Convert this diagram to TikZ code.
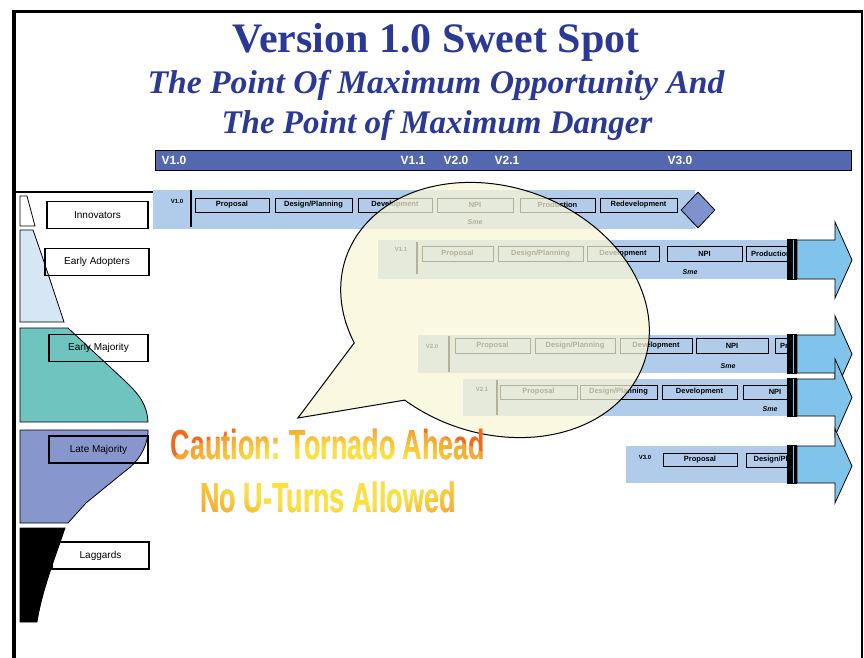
\documentclass[tikz,border=0pt]{standalone}
\usepackage{fontspec}
\usepackage{graphicx}
\setmainfont{Liberation Serif}
\setsansfont{Liberation Sans}
\usetikzlibrary{shapes.geometric}
\definecolor{titleblue}{RGB}{42,57,150}
\definecolor{tlblue}{RGB}{84,104,176}
\definecolor{barblue}{RGB}{176,204,234}
\definecolor{arrblue}{RGB}{128,196,236}
\definecolor{diamblue}{RGB}{128,146,206}
\definecolor{eadopt}{RGB}{214,230,245}
\definecolor{emaj}{RGB}{112,196,192}
\definecolor{lmaj}{RGB}{136,150,206}
\definecolor{bubble}{RGB}{250,246,214}
\definecolor{warnorange}{RGB}{238,108,32}
\definecolor{warnyellow}{RGB}{252,226,50}
\pgfdeclareradialshading{warnglow}{\pgfpoint{0bp}{0bp}}{%
  color(0bp)=(warnyellow); color(14bp)=(warnyellow); color(34bp)=(warnorange); color(50bp)=(warnorange)}
\newcommand\rowarrow[4]{%
  \fill[black] (787,{#1-1}) rectangle (797,{#2+1});
  \draw[arrblue, line width=0.9pt] (793.5,#1) -- (793.5,#2);
  \draw[arrowbody] (797,#1) -- (835,#1) -- (835,#3) -- (852,{(#3+#4)/2}) -- (835,#4) -- (835,#2) -- (797,#2) -- cycle;
}
\begin{document}
\begin{tikzpicture}[x=1pt,y=-1pt,
  pbox/.style={draw=black, line width=1pt, fill=barblue, inner sep=0pt, minimum height=14,
    font=\sffamily\bfseries\fontsize{7.5}{7.5}\selectfont},
  lbox/.style={draw=black, line width=1.2pt, inner sep=0pt, minimum height=27,
    font=\sffamily\fontsize{10}{10}\selectfont},
  rowlbl/.style={inner sep=0pt, font=\sffamily\bfseries\fontsize{6}{6}\selectfont},
  smelbl/.style={inner sep=0pt, font=\sffamily\bfseries\itshape\fontsize{7}{7}\selectfont},
  tllbl/.style={inner sep=0pt, text=white, font=\sffamily\bfseries\fontsize{12}{12}\selectfont},
  arrowbody/.style={fill=arrblue, draw=black, line width=0.8pt},
  warn/.style={inner sep=0pt, anchor=base, text=warnorange, font=\sffamily\bfseries\fontsize{42}{42}\selectfont},
  ttl/.style={inner sep=0pt, anchor=base, text=titleblue},
]
\useasboundingbox (0,0) rectangle (864,658);
\fill[white] (0,0) rectangle (864,658);

% frame
\draw[line width=4pt] (14,658) -- (14,11.5);
\draw[line width=3pt] (12,11.5) -- (863,11.5);
\draw[line width=2.5pt] (862,10) -- (862,658);

% titles
\node[ttl, font=\bfseries\fontsize{42}{42}\selectfont] (title) at (436,53) {Version 1.0 Sweet Spot};
\node[ttl, font=\bfseries\itshape\fontsize{33}{33}\selectfont] (sub1) at (436,94) {\scalebox{1.02}[1]{The Point Of Maximum Opportunity And}};
\node[ttl, font=\bfseries\itshape\fontsize{33}{33}\selectfont] (sub2) at (437,134) {The Point of Maximum Danger};

% timeline
\node[draw=black, line width=1.2pt, fill=tlblue, inner sep=0pt, minimum width=696, minimum height=20, anchor=north west] (timeline) at (155,150) {};
\node[tllbl] (t10) at (174,160) {V1.0};
\node[tllbl] (t11) at (413,160) {V1.1};
\node[tllbl] (t20) at (456,160) {V2.0};
\node[tllbl] (t21) at (507,160) {V2.1};
\node[tllbl] (t30) at (680,160) {V3.0};

% separator
\coordinate (sepL) at (14,192);
\coordinate (sepR) at (153,192);
\draw[line width=1.5pt] (sepL) -- (sepR);

% adoption curve
\draw[line width=0.8pt, fill=white] (20,196) -- (27,196) -- (35,226) -- (20,226) -- cycle;
\draw[line width=0.8pt, fill=eadopt] (20,230) -- (33,230) .. controls (43,258) and (56,298) .. (64,322) -- (20,322) -- cycle;
\draw[line width=0.8pt, fill=emaj] (20,328) -- (68,328) -- (124,380) .. controls (140,395) and (147,405) .. (148,422) -- (20,422) -- cycle;
\draw[line width=0.8pt, fill=lmaj] (20,430) -- (148,430) -- (148,433) .. controls (146,450) and (138,462) .. (124,472) -- (86,503) -- (68,523) -- (20,523) -- cycle;
\draw[line width=0.8pt, fill=black] (20,528) -- (65,528) .. controls (56,555) and (42,590) .. (37,622) -- (20,622) -- cycle;

\node[lbox, minimum width=101] (innov) at (97.5,215) {Innovators};
\node[lbox, minimum width=104] (eadop) at (97,262) {Early Adopters};
\node[lbox, minimum width=99] (emajn) at (98.5,348) {Early Majority};
\node[lbox, minimum width=99] (lmajn) at (98.5,449.5) {Late Majority};
\node[lbox, minimum width=97] (lagg) at (100.5,555.5) {Laggards};

% row V1.0
\fill[barblue] (153,190) rectangle (695,229);
\coordinate (v10a) at (191,190);
\coordinate (v10b) at (191,227);
\draw[line width=1.2pt] (v10a) -- (v10b);
\node[rowlbl] (r10) at (177,201) {V1.0};
\node[pbox, minimum width=74] (p10a) at (232,205) {Proposal};
\node[pbox, minimum width=77] (p10b) at (313.5,205) {Design/Planning};
\node[pbox, minimum width=74] (p10c) at (395,205) {Development};
\node[pbox, minimum width=76] (p10d) at (475,205) {NPI};
\node[pbox, minimum width=75] (p10e) at (557.5,205) {Production};
\node[pbox, minimum width=77] (p10f) at (638.5,205) {Redevelopment};
\node[smelbl] (s10) at (475,222) {Sme};
\node[diamond, aspect=0.94, draw=black, line width=0.8pt, fill=diamblue, inner sep=0pt, minimum width=34, minimum height=36] (dia) at (698,210) {};

% row V1.1
\begin{scope}
\clip (370,230) rectangle (787,290);
\fill[barblue] (378,240) rectangle (790,279);
\coordinate (v11a) at (417,242);
\coordinate (v11b) at (417,274);
\draw[line width=1.2pt] (v11a) -- (v11b);
\node[rowlbl] (r11) at (401,249) {V1.1};
\node[pbox, minimum width=71, minimum height=15] (p11a) at (457.5,253.5) {Proposal};
\node[pbox, minimum width=85, minimum height=15] (p11b) at (540.5,253.5) {Design/Planning};
\node[pbox, minimum width=72, minimum height=15] (p11c) at (623,253.5) {Development};
\node[pbox, minimum width=75, minimum height=15] (p11d) at (704.5,253.5) {NPI};
\node[pbox, minimum width=50, minimum height=15] (p11e) at (771,253.5) {Production};
\node[smelbl] (s11) at (690,272) {Sme};
\end{scope}
\rowarrow{240}{279}{222}{298}

% row V2.0
\begin{scope}
\clip (410,325) rectangle (787,380);
\fill[barblue] (418,335) rectangle (790,373);
\coordinate (v20a) at (449,336);
\coordinate (v20b) at (449,372);
\draw[line width=1.2pt] (v20a) -- (v20b);
\node[rowlbl] (r20) at (432,346) {V2.0};
\node[pbox, minimum width=75, minimum height=15] (p20a) at (492.5,345.5) {Proposal};
\node[pbox, minimum width=80, minimum height=15] (p20b) at (575,345.5) {Design/Planning};
\node[pbox, minimum width=72, minimum height=15] (p20c) at (656,345.5) {Development};
\node[pbox, minimum width=72, minimum height=15] (p20d) at (732,345.5) {NPI};
\node[pbox, minimum width=50, minimum height=15] (p20e) at (800,345.5) {Production};
\node[smelbl] (s20) at (728,366) {Sme};
\end{scope}
\rowarrow{335}{373}{316}{392}

% row V2.1
\begin{scope}
\clip (455,374) rectangle (787,425);
\fill[barblue] (463,379) rectangle (790,416);
\coordinate (v21a) at (497,380);
\coordinate (v21b) at (497,415);
\draw[line width=1.2pt] (v21a) -- (v21b);
\node[rowlbl] (r21) at (482,389) {V2.1};
\node[pbox, minimum width=77] (p21a) at (538.5,392) {Proposal};
\node[pbox, minimum width=77] (p21b) at (618.5,392) {Design/Planning};
\node[pbox, minimum width=75] (p21c) at (699.5,392) {Development};
\node[pbox, minimum width=64] (p21d) at (775,392) {NPI};
\node[smelbl] (s21) at (770,409) {Sme};
\end{scope}
\rowarrow{379}{416}{359}{436}

% row V3.0
\begin{scope}
\clip (620,440) rectangle (787,490);
\fill[barblue] (626,446) rectangle (790,483);
\node[rowlbl] (r30) at (645,457) {V3.0};
\node[pbox, minimum width=74, minimum height=13] (p30a) at (700,459.5) {Proposal};
\node[pbox, minimum width=74, minimum height=14] (p30b) at (783,460) {Design/Planning};
\end{scope}
\rowarrow{446}{483}{429}{503}

% speech bubble
\begin{scope}[shift={(495,310)}, rotate=-20]
\coordinate (tailtip) at (-148.3,168.9);
\draw[fill=bubble, fill opacity=0.72, draw=black, line width=1pt]
  (-54.04,115.58) arc[start angle=110, end angle=-220, x radius=158, y radius=123]
  -- (tailtip) -- cycle;
\end{scope}

% warning text (orange, with a yellow glow blended in the centre)
\node[warn] (wA) at (328,459) {\scalebox{0.64}[1]{Caution: Tornado Ahead}};
\node[warn] (wB) at (328,512) {\scalebox{0.64}[1]{No U-Turns Allowed}};
\begin{scope}[blend mode=lighten]
\shade[shading=warnglow] (332,478) ellipse [x radius=172, y radius=54];
\end{scope}
\end{tikzpicture}
\end{document}
